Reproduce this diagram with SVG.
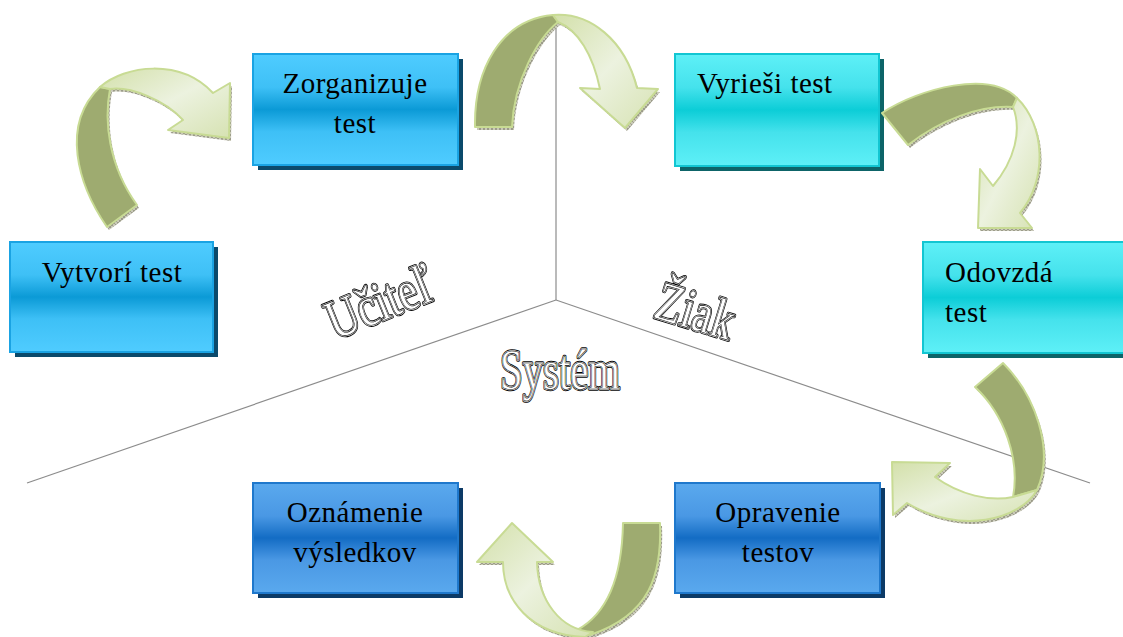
<svg xmlns="http://www.w3.org/2000/svg" xmlns:xlink="http://www.w3.org/1999/xlink" width="1123" height="637" viewBox="0 0 1123 637">
  <style>
    .lbl { font-family: "Liberation Serif", "Times New Roman", serif; font-size: 29px; fill: #000; letter-spacing: 0.5px; }
    .mid { text-anchor: middle; }
    .axis { stroke: #8c8c8c; stroke-width: 1.2; fill: none; }
    .back { fill: #9eab70; stroke: #c8db94; stroke-width: 2; stroke-linejoin: round; }
    .front { fill: url(#gFront); stroke: #c8db94; stroke-width: 2; stroke-linejoin: round; }
    .edge { fill: url(#hatch); stroke: none; }
    .wa { font-family: "Liberation Serif", "Times New Roman", serif; font-size: 56px; }
    .title { opacity: 0.99; }
    .wa1 { fill: #fff; stroke: #000; stroke-width: 3.4; stroke-linejoin: round; }
    .wa2 { fill: #fff; stroke: #fff; stroke-width: 1.6; stroke-linejoin: round; }
    .wa3 { fill: #fff; stroke: #000; stroke-width: 0.6; }
  </style>
  <defs>
    <linearGradient id="gBlue" x1="0" y1="0" x2="0" y2="1">
      <stop offset="0" stop-color="#4fccff"/>
      <stop offset="0.3" stop-color="#3ec0f6"/>
      <stop offset="0.5" stop-color="#0b9ad6"/>
      <stop offset="0.7" stop-color="#3ec0f6"/>
      <stop offset="1" stop-color="#4fccff"/>
    </linearGradient>
    <linearGradient id="gCyan" x1="0" y1="0" x2="0" y2="1">
      <stop offset="0" stop-color="#5ef0f7"/>
      <stop offset="0.3" stop-color="#45e2ec"/>
      <stop offset="0.5" stop-color="#0ccdd7"/>
      <stop offset="0.7" stop-color="#45e2ec"/>
      <stop offset="1" stop-color="#5ef0f7"/>
    </linearGradient>
    <linearGradient id="gNavy" x1="0" y1="0" x2="0" y2="1">
      <stop offset="0" stop-color="#5aa9ee"/>
      <stop offset="0.3" stop-color="#4a98e4"/>
      <stop offset="0.5" stop-color="#136cc4"/>
      <stop offset="0.7" stop-color="#4a98e4"/>
      <stop offset="1" stop-color="#5aa9ee"/>
    </linearGradient>
    <linearGradient id="gFront" x1="0" y1="0" x2="1" y2="1">
      <stop offset="0" stop-color="#d3e0aa"/>
      <stop offset="0.5" stop-color="#ecf2df"/>
      <stop offset="1" stop-color="#d6e2b2"/>
    </linearGradient>
    <pattern id="hatch" width="4" height="4" patternUnits="userSpaceOnUse">
      <rect width="4" height="4" fill="#c9c9b8"/>
      <path d="M0,4 L4,0 M0,0 L4,4" stroke="#7d7d6c" stroke-width="0.6"/>
    </pattern>

    <!-- ribbon arrow shapes: back (dark) face and front face with head -->
    <path id="a1b" d="M107,227 C78,185 60,125 100,87 L110,89 C104,120 108,165 137,205 Z"/>
    <path id="a1f" d="M100,87 C125,65 180,58 213,93 L230,83 L229,138 L168,130 L183,120 C165,100 130,86 110,89 Z"/>
    <path id="a2b" d="M475,127 C474,70 500,20 553,15 L558,22 C538,38 514,80 512,127 Z"/>
    <path id="a2f" d="M553,15 C590,12 625,40 637,88 L658,89 L625,128 L580,88 L600,89 C593,55 578,30 558,22 Z"/>
    <path id="a3b" d="M882,113 C920,88 990,70 1017,98 L1013,107 C980,105 940,120 908,145 Z"/>
    <path id="a3f" d="M1017,98 C1045,125 1048,180 1020,213 L1032,228 L978,228 L980,169 L993,186 C1015,160 1022,130 1013,107 Z"/>
    <path id="a4b" d="M1003,363 C1035,395 1055,450 1037,490 L1013,497 C1020,460 1005,415 975,387 Z"/>
    <path id="a4f" d="M1037,490 C1020,520 960,535 907,503 L893,515 L892,462 L950,463 L935,477 C960,495 990,502 1013,497 Z"/>
    <path id="a5b" d="M623,523 L660,523 C662,575 650,615 590,635 L577,630 C605,615 622,580 623,523 Z"/>
    <path id="a5f" d="M593,632 C560,630 538,600 537,562 L553,562 L512,523 L477,562 L503,562 C503,600 530,635 585,637 Z"/>

    <text id="tUcitel" class="wa" x="0" y="0" textLength="112" lengthAdjust="spacingAndGlyphs">Učiteľ</text>
    <text id="tZiak" class="wa" x="0" y="0" textLength="80" lengthAdjust="spacingAndGlyphs">Žiak</text>
    <text id="tSystem" class="wa" x="500" y="389" textLength="120" lengthAdjust="spacingAndGlyphs">Systém</text>
  </defs>

  <rect width="1123" height="637" fill="#fff"/>

  <!-- three dividing axes -->
  <g id="axes">
    <line class="axis" x1="556" y1="28" x2="556" y2="300"/>
    <line class="axis" x1="556" y1="300" x2="27" y2="483"/>
    <line class="axis" x1="556" y1="300" x2="1090" y2="483"/>
  </g>

  <!-- area titles -->
  <g id="title-ucitel" class="title" transform="translate(335,340) rotate(-22)">
    <use xlink:href="#tUcitel" class="wa1"/>
    <use xlink:href="#tUcitel" class="wa2"/>
    <use xlink:href="#tUcitel" class="wa3"/>
  </g>
  <g id="title-ziak" class="title" transform="translate(652,317) rotate(17)">
    <use xlink:href="#tZiak" class="wa1"/>
    <use xlink:href="#tZiak" class="wa2"/>
    <use xlink:href="#tZiak" class="wa3"/>
  </g>
  <g id="title-system" class="title">
    <use xlink:href="#tSystem" class="wa1"/>
    <use xlink:href="#tSystem" class="wa2"/>
    <use xlink:href="#tSystem" class="wa3"/>
  </g>

  <!-- nodes -->
  <g id="n-vytvori">
    <rect x="15" y="247" width="203" height="110" fill="#0b4a6b"/>
    <rect x="10" y="242" width="203" height="110" fill="url(#gBlue)" stroke="#1aa3e3" stroke-width="2"/>
    <text class="lbl mid" x="112" y="282">Vytvorí test</text>
  </g>
  <g id="n-zorganizuje">
    <rect x="258" y="59" width="205" height="111" fill="#0b4a6b"/>
    <rect x="253" y="54" width="205" height="111" fill="url(#gBlue)" stroke="#1aa3e3" stroke-width="2"/>
    <text class="lbl mid" x="355" y="93">Zorganizuje</text>
    <text class="lbl mid" x="355" y="133">test</text>
  </g>
  <g id="n-vyriesi">
    <rect x="680" y="59" width="204" height="112" fill="#0d6468"/>
    <rect x="675" y="54" width="204" height="112" fill="url(#gCyan)" stroke="#12c6d2" stroke-width="2"/>
    <text class="lbl" x="697" y="93">Vyrieši test</text>
  </g>
  <g id="n-odovzda">
    <rect x="928" y="247" width="200" height="111" fill="#0d6468"/>
    <rect x="923" y="242" width="205" height="111" fill="url(#gCyan)" stroke="#12c6d2" stroke-width="2"/>
    <text class="lbl" x="945" y="282">Odovzdá</text>
    <text class="lbl" x="945" y="322">test</text>
  </g>
  <g id="n-opravenie">
    <rect x="680" y="488" width="205" height="110" fill="#0c3a66"/>
    <rect x="675" y="483" width="205" height="110" fill="url(#gNavy)" stroke="#1f78cc" stroke-width="2"/>
    <text class="lbl mid" x="778" y="522">Opravenie</text>
    <text class="lbl mid" x="778" y="562">testov</text>
  </g>
  <g id="n-oznamenie">
    <rect x="258" y="488" width="205" height="110" fill="#0c3a66"/>
    <rect x="253" y="483" width="205" height="110" fill="url(#gNavy)" stroke="#1f78cc" stroke-width="2"/>
    <text class="lbl mid" x="355" y="522">Oznámenie</text>
    <text class="lbl mid" x="355" y="562">výsledkov</text>
  </g>

  <!-- curved ribbon arrows between steps -->
  <g id="connectors">
    <g id="c1">
      <g transform="translate(2,3)"><use xlink:href="#a1b" class="edge"/><use xlink:href="#a1f" class="edge"/></g>
      <use xlink:href="#a1b" class="back"/>
      <use xlink:href="#a1f" class="front"/>
    </g>
    <g id="c2">
      <g transform="translate(2,3)"><use xlink:href="#a2b" class="edge"/><use xlink:href="#a2f" class="edge"/></g>
      <use xlink:href="#a2b" class="back"/>
      <use xlink:href="#a2f" class="front"/>
    </g>
    <g id="c3">
      <g transform="translate(2,3)"><use xlink:href="#a3b" class="edge"/><use xlink:href="#a3f" class="edge"/></g>
      <use xlink:href="#a3b" class="back"/>
      <use xlink:href="#a3f" class="front"/>
    </g>
    <g id="c4">
      <g transform="translate(2,3)"><use xlink:href="#a4b" class="edge"/><use xlink:href="#a4f" class="edge"/></g>
      <use xlink:href="#a4b" class="back"/>
      <use xlink:href="#a4f" class="front"/>
    </g>
    <g id="c5">
      <g transform="translate(2,3)"><use xlink:href="#a5b" class="edge"/><use xlink:href="#a5f" class="edge"/></g>
      <use xlink:href="#a5b" class="back"/>
      <use xlink:href="#a5f" class="front"/>
    </g>
  </g>
</svg>
